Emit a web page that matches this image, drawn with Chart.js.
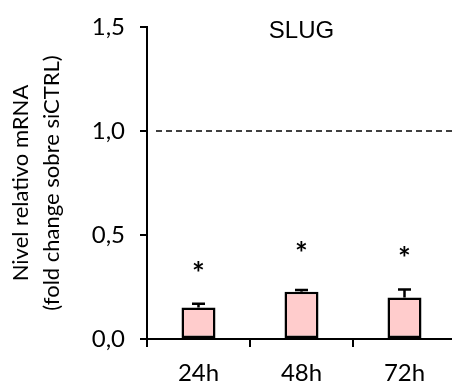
<!DOCTYPE html>
<html>
<head>
<meta charset="utf-8">
<script src="https://cdn.jsdelivr.net/npm/chart.js@4"></script>
<style>
  html, body { margin: 0; padding: 0; background: #fff; overflow: hidden; }
  #wrap { position: absolute; left: 0; top: 0; width: 458px; height: 392px; }
</style>
</head>
<body>
<div id="wrap"><canvas id="grafico" width="458" height="392"></canvas></div>
<script>
const categorias = ['24h', '48h', '72h'];
const valores = [0.152, 0.227, 0.200];
const errores = [0.018, 0.009, 0.038];
const asteriscos = [0.345, 0.44, 0.417];
const referencia = 1.0;
const ticksY = [0, 0.5, 1.0, 1.5];

const fuente = 'Lato, "Open Sans", sans-serif';

// barras de error, linea punteada, asteriscos y titulo
const extras = {
  id: 'extras',
  afterDatasetsDraw(chart) {
    const ctx = chart.ctx;
    const x = chart.scales.x;
    const y = chart.scales.y;
    const area = chart.chartArea;
    ctx.save();

    // linea de referencia
    ctx.strokeStyle = '#000';
    ctx.lineWidth = 1.6;
    ctx.setLineDash([6, 4]);
    ctx.beginPath();
    ctx.moveTo(area.left + 9, y.getPixelForValue(referencia));
    ctx.lineTo(area.right, y.getPixelForValue(referencia));
    ctx.stroke();
    ctx.setLineDash([]);

    // errores
    ctx.lineWidth = 2.5;
    valores.forEach((v, i) => {
      const cx = x.getPixelForValue(i);
      const y0 = y.getPixelForValue(v);
      const y1 = y.getPixelForValue(v + errores[i]);
      ctx.beginPath();
      ctx.moveTo(cx, y0);
      ctx.lineTo(cx, y1);
      ctx.moveTo(cx - 6.5, y1);
      ctx.lineTo(cx + 6.5, y1);
      ctx.stroke();
    });

    // asteriscos
    ctx.fillStyle = '#000';
    ctx.font = 'bold 30px ' + fuente;
    ctx.textAlign = 'center';
    ctx.textBaseline = 'middle';
    asteriscos.forEach((v, i) => {
      ctx.fillText('*', x.getPixelForValue(i), y.getPixelForValue(v) + 7);
    });

    // titulo
    ctx.font = '24px "Liberation Sans", Arial, sans-serif';
    ctx.fillText('SLUG', x.getPixelForValue(1), 31);
    ctx.restore();
  }
};

new Chart(document.getElementById('grafico'), {
  type: 'bar',
  data: {
    labels: categorias,
    datasets: [{
      data: valores,
      backgroundColor: '#ffcccc',
      borderColor: '#000',
      borderWidth: 2.5,
      borderSkipped: false,
      barPercentage: 0.33,
      categoryPercentage: 1
    }]
  },
  options: {
    responsive: false,
    animation: false,
    layout: { padding: { left: 0, right: 2, top: 26, bottom: 0 } },
    plugins: {
      legend: { display: false },
      tooltip: { enabled: false }
    },
    scales: {
      x: {
        afterFit: (s) => { s.height = 53; },
        border: { color: '#000', width: 2 },
        grid: { offset: true, drawOnChartArea: false, color: '#000', lineWidth: 2, tickLength: 8 },
        ticks: { color: '#000', font: { family: fuente, size: 24 }, padding: 12 }
      },
      y: {
        min: 0,
        max: 1.5,
        afterFit: (s) => { s.width = 147; },
        afterBuildTicks: (s) => { s.ticks = ticksY.map(v => ({ value: v })); },
        border: { color: '#000', width: 2 },
        grid: { drawOnChartArea: false, color: '#000', lineWidth: 2, tickLength: 7 },
        ticks: {
          color: '#000',
          font: { family: fuente, size: 24, lineHeight: 1 },
          padding: 15,
          callback: (v) => v.toFixed(1).replace('.', ',')
        },
        title: {
          display: true,
          text: ['Nivel relativo mRNA', '(fold change sobre siCTRL)'],
          color: '#000',
          font: { family: fuente, size: 22, lineHeight: 1.4 },
          padding: { top: 6, bottom: 0 }
        }
      }
    }
  },
  plugins: [extras]
});
</script>
</body>
</html>
